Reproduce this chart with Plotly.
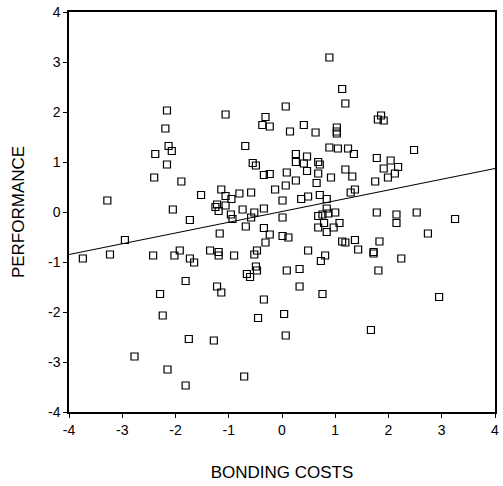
import plotly.graph_objects as go

bonding_costs = [
    -2.16, -1.06, -0.31, -0.37, -0.23, -2.19, -2.13, -2.07, -2.38, -0.69,
    -2.16, -0.55, -0.49, -2.40, -0.34, -0.23, -1.89, -3.28, -1.52, -1.14,
    -1.06, -0.95, -0.80, -0.58, -0.13, -1.22, -1.25, -1.19, -1.06, -2.05,
    -0.74, -0.52, -0.34, -0.96, -0.93, -0.58, -1.73, -0.68, -0.34,
    0.89, 1.13, 1.19, 0.07, 0.15, 0.41, 0.63, 1.03, 1.03, 1.03,
    1.86, 1.80, 1.91, 2.48, 0.89, 1.05, 1.24, 1.35, 0.26, 0.47,
    0.26, 0.41, 0.68, 0.71, 1.78, 2.04, 1.91, 2.18, 2.12, 1.99,
    1.75, 0.09, 0.47, 0.68, 1.19, 1.32, 0.92, 0.26, 0.65, 0.07,
    1.37, 1.29, 0.71, 0.84, 0.49, 0.36, 0.01, 0.84, 1.00, 0.87,
    0.76, 0.68, 0.01, 1.78, 2.15, 2.53, 3.25, 2.15, 0.79, 1.08,
    0.68, 0.97,
    -2.95, -0.23, -1.17, -0.31, -3.74, -3.23, -2.42, -2.02, -1.92, -1.73,
    -1.65, -1.35, -1.19, -1.19, -0.90, -0.52, -0.47, -0.49, -0.47, -0.66,
    -0.60, -1.81, -1.22, -1.14, -2.29, -0.34, -2.24, -0.45, -1.75, -1.28,
    -2.77, -2.15, -0.71, -1.81,
    0.84, 0.01, 0.12, 2.74, 1.13, 1.19, 1.37, 1.83, 1.43, 1.72,
    1.72, 0.49, 0.81, 0.73, 2.24, 0.09, 0.33, 1.81, 0.33, 0.76,
    2.95, 0.04, 0.07, 1.67,
]
performance = [
    2.03, 1.95, 1.90, 1.74, 1.71, 1.67, 1.32, 1.22, 1.16, 1.32,
    0.95, 0.98, 0.93, 0.69, 0.74, 0.76, 0.61, 0.23, 0.34, 0.45,
    0.32, 0.26, 0.37, 0.39, 0.45, 0.15, 0.10, 0.02, 0.13, 0.05,
    0.05, -0.01, 0.07, -0.05, -0.14, -0.11, -0.16, -0.29, -0.32,
    3.09, 2.46, 2.17, 2.11, 1.61, 1.74, 1.59, 1.69, 1.61, 1.57,
    1.93, 1.85, 1.83, 1.24, 1.29, 1.27, 1.27, 1.16, 1.16, 1.11,
    1.00, 0.97, 1.00, 0.95, 1.08, 1.03, 0.87, 0.90, 0.77, 0.69,
    0.61, 0.79, 0.82, 0.77, 0.85, 0.71, 0.69, 0.63, 0.58, 0.53,
    0.45, 0.39, 0.34, 0.26, 0.31, 0.26, 0.23, 0.07, -0.01, -0.03,
    -0.05, -0.08, -0.11, -0.01, -0.05, -0.01, -0.14, -0.22, -0.22, -0.22,
    -0.31, -0.31,
    -0.56, -0.45, -0.43, -0.61, -0.93, -0.85, -0.87, -0.87, -0.77, -0.93,
    -1.01, -0.77, -0.80, -0.87, -0.87, -0.85, -0.77, -1.09, -1.17, -1.24,
    -1.30, -1.38, -1.49, -1.61, -1.64, -1.75, -2.07, -2.12, -2.54, -2.57,
    -2.89, -3.15, -3.29, -3.47,
    -0.40, -0.48, -0.51, -0.43, -0.59, -0.61, -0.56, -0.59, -0.75, -0.80,
    -0.83, -0.77, -0.87, -0.98, -0.93, -1.17, -1.14, -1.17, -1.49, -1.64,
    -1.70, -2.04, -2.47, -2.36,
]

fit_x = [-4, 4]
fit_y = [-0.85, 0.87]

tick_vals = [-4, -3, -2, -1, 0, 1, 2, 3, 4]
tick_text = ["-4", "-3", "-2", "-1", "0", "1", "2", "3", "4"]

fig = go.Figure()
fig.add_trace(go.Scatter(
    x=fit_x, y=fit_y, mode="lines",
    line=dict(color="black", width=1.2),
    showlegend=False, hoverinfo="skip",
))
fig.add_trace(go.Scatter(
    x=bonding_costs, y=performance, mode="markers",
    marker=dict(symbol="square-open", size=7, color="black",
                line=dict(width=1.2, color="black")),
    showlegend=False,
))

axis_common = dict(
    range=[-4, 4], tickvals=tick_vals, ticktext=tick_text,
    showgrid=False, zeroline=False,
    showline=True, linecolor="black", linewidth=1.5, mirror=True,
    ticks="outside", ticklen=4, tickcolor="black", tickwidth=1,
    tickfont=dict(family="Liberation Sans, Arial", size=14, color="black"),
)

fig.update_layout(
    width=503, height=486,
    margin=dict(l=69, r=4, t=11, b=74),
    paper_bgcolor="white", plot_bgcolor="white",
    font=dict(family="Liberation Sans, Arial", color="black"),
    xaxis=dict(**axis_common,
               title=dict(text="BONDING COSTS", standoff=30,
                          font=dict(size=17, color="black"))),
    yaxis=dict(**axis_common,
               title=dict(text="PERFORMANCE", standoff=19,
                          font=dict(size=17, color="black"))),
)

fig.write_html(
    "out.html",
    config={"displayModeBar": False},
    post_script="document.body.style.margin='0';document.body.style.overflow='hidden';",
)
